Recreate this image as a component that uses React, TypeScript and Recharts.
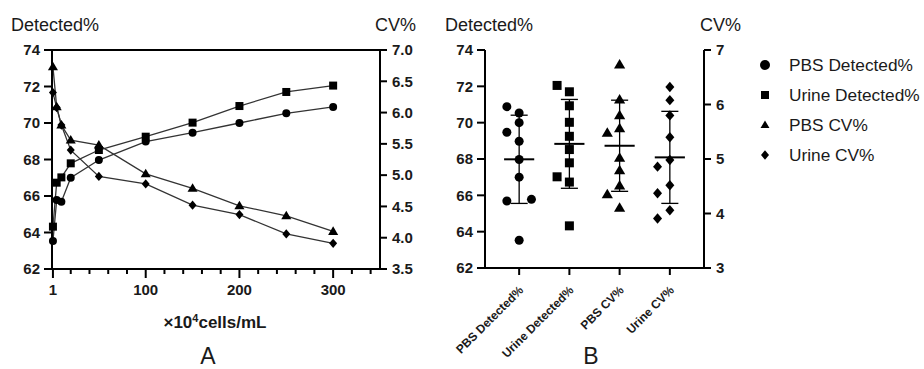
import React from 'react';
import { LineChart, Line, XAxis, YAxis, ScatterChart, Scatter, ReferenceLine } from 'recharts';

// ---------- data ----------
const concentrations = [1, 5, 10, 20, 50, 100, 150, 200, 250, 300];
const pbsDetected = [63.53, 65.78, 65.69, 67.0, 67.97, 68.98, 69.47, 70.0, 70.53, 70.88];
const urineDetected = [64.32, 66.73, 67.02, 67.79, 68.52, 69.25, 70.02, 70.93, 71.7, 72.05];
const pbsCv = [6.73, 6.09, 5.8, 5.56, 5.48, 5.02, 4.79, 4.51, 4.35, 4.1];
const urineCv = [6.32, 6.08, 5.8, 5.4, 4.98, 4.86, 4.52, 4.37, 4.06, 3.91];

const xTicksA = [1, 20, 40, 60, 80, 100, 120, 140, 160, 180, 200, 220, 240, 260, 280, 300, 320, 340];
const xLabelTicksA = [1, 100, 200, 300];
const detTicks = [62, 64, 66, 68, 70, 72, 74];
const cvTicksA = [3.5, 4, 4.5, 5, 5.5, 6, 6.5, 7];
const cvTicksB = [3, 4, 5, 6, 7];
const groupNames = ['PBS Detected%', 'Urine Detected%', 'PBS CV%', 'Urine CV%'];
const groupShapes = ['circle', 'square', 'triangle', 'diamond'];

const FONT = '"Liberation Sans", Arial, Helvetica, sans-serif';
const INK = '#1a1a1a';

// panel A layout
const A_W = 430;
const A_TOP = 50;
const A_LEFT_AXIS_W = 52;
const A_RIGHT_AXIS_W = 50;
const A_PLOT_W = A_W - A_LEFT_AXIS_W - A_RIGHT_AXIS_W;

// ---------- helpers ----------
const tableA = concentrations.map((x, i) => ({
  x,
  pbsDet: pbsDetected[i],
  urineDet: urineDetected[i],
  pbsCv: pbsCv[i],
  urineCv: urineCv[i],
}));

const mean = (a: number[]) => a.reduce((s, v) => s + v, 0) / a.length;
const sd = (a: number[]) => {
  const m = mean(a);
  return Math.sqrt(a.reduce((s, v) => s + (v - m) * (v - m), 0) / (a.length - 1));
};

// simple collision-avoiding dot-plot layout (slot -1, 0, +1)
function jitterSlots(values: number[], range: number): number[] {
  const T = (range * 0.5) / 12;
  const tie = (range * 0.15) / 12;
  const slots: number[] = values.map(() => 0);
  const placed: number[] = [];
  values.forEach((v, i) => {
    const conflict = (s: number) => placed.filter((j) => slots[j] === s && Math.abs(values[j] - v) < T);
    const c0 = conflict(0);
    if (c0.length === 0) slots[i] = 0;
    else if (c0.length === 1 && Math.abs(values[c0[0]] - v) < tie) {
      slots[c0[0]] = 1;
      slots[i] = -1;
    } else if (conflict(-1).length === 0) slots[i] = -1;
    else slots[i] = 1;
    placed.push(i);
  });
  return slots;
}

const groupValues = [pbsDetected, urineDetected, pbsCv, urineCv];
const groupAxis = ['det', 'det', 'cv', 'cv'];
const groupRange = [12, 12, 4, 4];
const JIT = 0.245;
const groupData = groupValues.map((vals, g) => {
  const slots = jitterSlots(vals, groupRange[g]);
  return vals.map((v, i) => ({ x: g + 1 + slots[i] * JIT, y: v }));
});
const groupStats = groupValues.map((vals) => ({ m: mean(vals), s: sd(vals) }));

function Marker({ kind, cx, cy, s }: { kind: string; cx: number; cy: number; s: number }) {
  if (cx == null || cy == null || isNaN(cx) || isNaN(cy)) return null;
  switch (kind) {
    case 'circle':
      return <circle cx={cx} cy={cy} r={s / 2} fill="#000" />;
    case 'square':
      return <rect x={cx - s / 2} y={cy - s / 2} width={s} height={s} fill="#000" />;
    case 'triangle': {
      const h = s * 0.95;
      return (
        <polygon
          points={`${cx},${cy - h * 0.6} ${cx + s * 0.56},${cy + h * 0.4} ${cx - s * 0.56},${cy + h * 0.4}`}
          fill="#000"
        />
      );
    }
    default:
      return (
        <polygon
          points={`${cx},${cy - s * 0.58} ${cx + s * 0.5},${cy} ${cx},${cy + s * 0.58} ${cx - s * 0.5},${cy}`}
          fill="#000"
        />
      );
  }
}

const XTickA = (props: any) => {
  const { x, y, payload } = props;
  const major = xLabelTicksA.includes(payload.value);
  return (
    <g>
      <line x1={x} x2={x} y1={y} y2={y + (major ? 9 : 5)} stroke="#000" strokeWidth={2} />
      {major && (
        <text x={x} y={y + 26} textAnchor="middle" fontSize={15} fontWeight="bold" fill={INK} fontFamily={FONT}>
          {payload.value}
        </text>
      )}
    </g>
  );
};

const YTickA = (props: any) => {
  const { x, y, payload } = props;
  return (
    <g>
      <line x1={x - 8} x2={x} y1={y} y2={y} stroke="#000" strokeWidth={2} />
      <text x={x - 12} y={y} dy="0.355em" textAnchor="end" fontSize={15} fontWeight="bold" fill={INK} fontFamily={FONT}>
        {payload.value}
      </text>
    </g>
  );
};

const XTickB = (props: any) => {
  const { x, y, payload } = props;
  const label = groupNames[Math.round(payload.value) - 1] || '';
  const tx = x + 5;
  const ty = y + 16;
  return (
    <text
      x={tx}
      y={ty}
      transform={`rotate(-45, ${tx}, ${ty})`}
      textAnchor="end"
      fontSize={12}
      fontWeight="bold"
      fill={INK}
      fontFamily={FONT}
    >
      {label}
    </text>
  );
};

const yTickStyle = { fontSize: 15, fontWeight: 'bold', fill: INK, fontFamily: FONT } as any;
const axisStroke = { stroke: '#000', strokeWidth: 2 };

const dotFn = (kind: string, s: number) => (p: any) => (
  <Marker key={`${kind}-${p.index}`} kind={kind} cx={p.cx} cy={p.cy} s={s} />
);

export default function App() {
  return (
    <div style={{ position: 'relative', width: 924, height: 369, fontFamily: FONT, background: '#fff' }}>
      <style>{'body{margin:0;background:#fff}'}</style>

      {/* Panel A */}
      <div style={{ position: 'absolute', left: 0, top: 0 }}>
        <LineChart width={A_W} height={369} data={tableA} margin={{ top: A_TOP, right: 0, bottom: 0, left: 0 }}>
          <XAxis
            dataKey="x"
            type="number"
            domain={[0, 350]}
            ticks={xTicksA}
            interval={0}
            height={100}
            axisLine={axisStroke}
            tickLine={false}
            tickSize={0}
            tickMargin={0}
            tick={<XTickA />}
          />
          <YAxis
            yAxisId="det"
            domain={[62, 74]}
            ticks={detTicks}
            interval={0}
            width={A_LEFT_AXIS_W}
            axisLine={axisStroke}
            tickLine={false}
            tickSize={0}
            tickMargin={0}
            tick={<YTickA />}
          />
          <YAxis
            yAxisId="cv"
            orientation="right"
            domain={[3.5, 7]}
            ticks={cvTicksA}
            interval={0}
            width={A_RIGHT_AXIS_W}
            axisLine={axisStroke}
            tickLine={axisStroke}
            tickSize={7}
            tickMargin={5}
            tick={yTickStyle}
            tickFormatter={(v: number) => v.toFixed(1)}
          />
          <Line yAxisId="det" dataKey="pbsDet" stroke="#333" strokeWidth={1.3} dot={dotFn('circle', 8)} isAnimationActive={false} />
          <Line yAxisId="det" dataKey="urineDet" stroke="#333" strokeWidth={1.3} dot={dotFn('square', 8)} isAnimationActive={false} />
          <Line yAxisId="cv" dataKey="pbsCv" stroke="#333" strokeWidth={1.3} dot={dotFn('triangle', 9)} isAnimationActive={false} />
          <Line yAxisId="cv" dataKey="urineCv" stroke="#333" strokeWidth={1.3} dot={dotFn('diamond', 8)} isAnimationActive={false} />
        </LineChart>
      </div>

      {/* Panel B */}
      <div style={{ position: 'absolute', left: 430, top: 0 }}>
        <ScatterChart width={300} height={369} margin={{ top: 50, right: 0, bottom: 0, left: 0 }}>
          <XAxis
            dataKey="x"
            type="number"
            domain={[0.32, 4.68]}
            ticks={[1, 2, 3, 4]}
            interval={0}
            height={101}
            axisLine={axisStroke}
            tickLine={axisStroke}
            tickSize={7}
            tickMargin={0}
            tick={<XTickB />}
          />
          <YAxis
            yAxisId="det"
            dataKey="y"
            type="number"
            domain={[62, 74]}
            ticks={detTicks}
            interval={0}
            width={55}
            axisLine={axisStroke}
            tickLine={axisStroke}
            tickSize={8}
            tickMargin={4}
            tick={yTickStyle}
          />
          <YAxis
            yAxisId="cv"
            dataKey="y"
            type="number"
            orientation="right"
            domain={[3, 7]}
            ticks={cvTicksB}
            interval={0}
            width={26}
            axisLine={axisStroke}
            tickLine={axisStroke}
            tickSize={7}
            tickMargin={5}
            tick={yTickStyle}
          />
          {groupData.map((d, g) => (
            <Scatter
              key={groupNames[g]}
              name={groupNames[g]}
              data={d}
              yAxisId={groupAxis[g]}
              dataKey="y"
              isAnimationActive={false}
              shape={(p: any) => <Marker kind={groupShapes[g]} cx={p.cx} cy={p.cy} s={g === 2 ? 10 : 9} />}
            />
          ))}
          {groupStats.map((st, g) => {
            const c = g + 1;
            const id = groupAxis[g];
            return (
              <React.Fragment key={`st-${g}`}>
                <ReferenceLine yAxisId={id} segment={[{ x: c - 0.3, y: st.m }, { x: c + 0.3, y: st.m }]} stroke="#000" strokeWidth={2} />
                <ReferenceLine yAxisId={id} segment={[{ x: c, y: st.m - st.s }, { x: c, y: st.m + st.s }]} stroke="#000" strokeWidth={1.3} />
                <ReferenceLine yAxisId={id} segment={[{ x: c - 0.17, y: st.m + st.s }, { x: c + 0.17, y: st.m + st.s }]} stroke="#000" strokeWidth={1.3} />
                <ReferenceLine yAxisId={id} segment={[{ x: c - 0.17, y: st.m - st.s }, { x: c + 0.17, y: st.m - st.s }]} stroke="#000" strokeWidth={1.3} />
              </React.Fragment>
            );
          })}
        </ScatterChart>
      </div>

      {/* Overlay: panel A frame top edge and texts */}
      <svg width={924} height={369} style={{ position: 'absolute', left: 0, top: 0, pointerEvents: 'none' }}>
        <line
          x1={A_LEFT_AXIS_W - 1}
          x2={A_LEFT_AXIS_W + A_PLOT_W + 1}
          y1={A_TOP}
          y2={A_TOP}
          stroke="#000"
          strokeWidth={2}
        />
        <g fontFamily={FONT} fill={INK}>
          <text x={11} y={31} fontSize={18}>Detected%</text>
          <text x={375} y={31} fontSize={18}>CV%</text>
          <text x={445} y={31} fontSize={18}>Detected%</text>
          <text x={700} y={31} fontSize={18}>CV%</text>
          <text x={215} y={328} fontSize={17} fontWeight="bold" textAnchor="middle">
            ×10<tspan dy={-6} fontSize={11}>4</tspan>
            <tspan dy={6}>cells/mL</tspan>
          </text>
          <text x={208} y={364} fontSize={23} textAnchor="middle">A</text>
          <text x={591} y={364} fontSize={23} textAnchor="middle">B</text>
          {groupNames.map((n, i) => (
            <g key={n}>
              <Marker kind={groupShapes[i]} cx={765} cy={65 + i * 30} s={i === 0 ? 10 : 8} />
              <text x={789} y={71 + i * 30} fontSize={17.3}>{n}</text>
            </g>
          ))}
        </g>
      </svg>
    </div>
  );
}
